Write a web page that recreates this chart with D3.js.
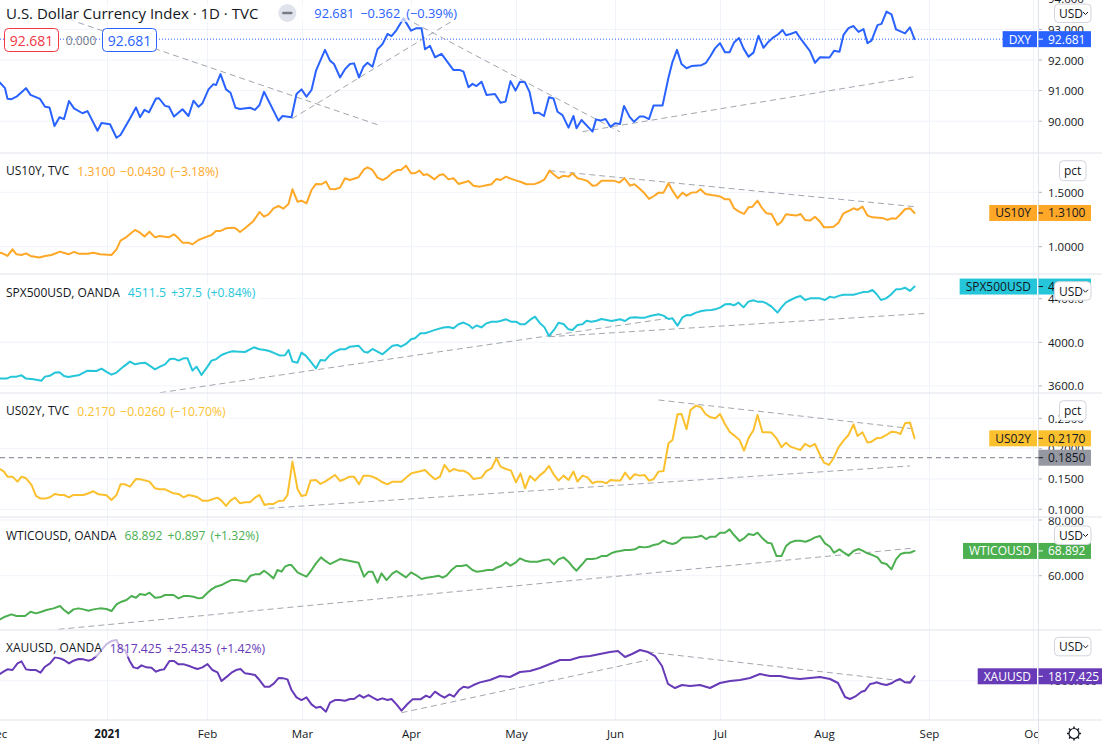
<!DOCTYPE html>
<html><head><meta charset="utf-8">
<script src="https://cdn.jsdelivr.net/npm/d3@7"></script>
<style>html,body{margin:0;padding:0;background:#fff;overflow:hidden}svg{display:block;font-family:"Open Sans",sans-serif}</style>
</head><body><svg id="c" width="1102" height="744"></svg>
<script>
// ---------- DATA (t = trading-bar index from early Dec 2020, v = close) ----------
const monthTicks = [["Dec",-0.6],["2021",21.5],["Feb",41.5],["Mar",60.5],["Apr",82.3],["May",103.3],["Jun",123.1],["Jul",144.1],["Aug",164.9],["Sep",185.9],["Oct",206.7]];

const dxy = [[0,91.26],[1,91.08],[1.5,90.73],[2.3,90.72],[3.3,90.80],[5.2,91.08],[6.1,90.86],[8,90.73],[9,90.47],[9.9,90.45],[10.9,89.84],[11.9,90.13],[12.8,90.07],[13.8,90.66],[14.8,90.42],[16.5,90.26],[17.5,90.33],[19.5,89.69],[20.3,89.94],[22,89.90],[23.3,89.46],[24.1,89.55],[26,90.09],[27.2,90.45],[28,90.13],[28.9,90.37],[29.8,90.29],[31.2,90.74],[31.8,90.75],[33,90.50],[33.8,90.47],[34.8,90.15],[36.5,90.39],[37.7,90.17],[38.7,90.67],[39.7,90.47],[40.5,90.59],[41.7,91.04],[42.7,91.21],[43.2,91.18],[44.1,91.54],[45.2,91.04],[46.1,90.93],[47.1,90.44],[48,90.40],[50,90.44],[51,90.37],[51.9,90.53],[52.8,90.96],[55.7,90.02],[56.5,90.17],[58.3,90.13],[59.3,90.89],[60.3,91.04],[61.3,90.80],[62.3,91.02],[63.2,91.65],[65,92.33],[66,91.98],[66.8,91.87],[68,91.43],[69,91.70],[70,91.87],[70.8,91.89],[71.8,91.43],[72.7,91.78],[73.5,91.91],[74.5,91.78],[75.5,92.35],[76.5,92.52],[77.5,92.85],[78.3,92.78],[79.3,92.98],[80.7,93.36],[82.2,92.96],[83.3,93.04],[84.3,93.04],[85,92.35],[86,92.46],[87,92.09],[88.3,92.20],[89.7,91.89],[90.7,91.67],[92,91.67],[92.7,91.62],[93.7,91.11],[94.5,91.22],[95.3,91.15],[96.3,91.29],[97.3,90.86],[99,90.89],[100.1,90.60],[101.1,90.64],[102.1,91.31],[103.1,91.00],[104,91.29],[105,91.27],[105.9,90.96],[106.8,90.26],[107.7,90.28],[108.8,90.17],[109.8,90.78],[110.7,90.74],[111.5,90.31],[112.5,90.20],[113.7,89.79],[114.7,90.17],[115.3,89.77],[116.3,90.04],[118.5,89.66],[119.2,90.06],[120.1,90.02],[121.1,90.07],[122.1,89.82],[123,89.93],[124,89.91],[124.8,90.50],[125.9,90.15],[126.8,89.98],[127.9,90.15],[128.8,90.15],[129.8,90.07],[130.7,90.51],[132.5,90.51],[133.7,91.43],[134.5,91.94],[135.4,92.33],[136.3,91.87],[137.3,91.73],[138.3,91.80],[140.3,91.83],[141.2,91.91],[142.1,92.13],[143,92.38],[144,92.55],[145,92.25],[145.9,92.25],[146.8,92.57],[147.8,92.72],[148.7,92.38],[149.7,92.11],[150.7,92.24],[151.7,92.79],[152.7,92.40],[153.7,92.60],[154.7,92.74],[155.7,92.85],[156.5,92.98],[157.2,92.81],[158.1,92.85],[159.2,92.92],[160.2,92.68],[162,92.29],[163,91.91],[164,92.09],[165.9,92.08],[166.8,92.30],[167.9,92.27],[168.7,92.82],[169.7,93.04],[170.7,93.11],[171.7,92.92],[172.7,93.01],[173.5,92.55],[174.3,92.63],[175.5,93.14],[176.3,93.18],[177.3,93.58],[178.3,93.49],[179.2,93.00],[181,92.87],[182,93.07],[182.9,92.681]];

const us10y = [[0,0.945],[0.5,0.939],[1.5,0.915],[2.5,0.976],[3.3,0.930],[4.3,0.924],[5.2,0.939],[6.1,0.915],[7.9,0.900],[9,0.915],[10.3,0.924],[12,0.955],[13.7,0.930],[14.8,0.952],[15.7,0.936],[17.5,0.936],[18.7,0.945],[20,0.930],[22.3,0.924],[23.3,0.976],[24.1,1.056],[25.2,1.086],[27,1.154],[28,1.129],[28.9,1.093],[29.9,1.138],[31,1.086],[31.9,1.099],[33.7,1.086],[34.8,1.114],[35.7,1.077],[36.5,1.037],[37.7,1.037],[38.5,1.022],[39.7,1.062],[41,1.086],[42.3,1.108],[43.2,1.145],[44.1,1.145],[45.2,1.169],[46.7,1.175],[47.3,1.163],[48,1.135],[49,1.169],[50.7,1.237],[51.9,1.319],[52.8,1.276],[53.7,1.298],[54.7,1.353],[55.7,1.374],[56.7,1.350],[57.7,1.393],[58.5,1.528],[59.5,1.414],[60.3,1.423],[61.3,1.399],[62.3,1.521],[63.2,1.577],[64.3,1.574],[65.2,1.598],[66,1.531],[67,1.528],[68,1.543],[69,1.629],[70,1.613],[71.7,1.638],[72.8,1.711],[73.5,1.730],[74.5,1.705],[75.5,1.635],[76.5,1.613],[77.5,1.638],[78.5,1.681],[79.5,1.705],[80.2,1.705],[81.2,1.745],[82.2,1.675],[83,1.675],[83.9,1.699],[84.7,1.659],[85.5,1.665],[86.9,1.619],[87.9,1.659],[88.7,1.665],[89.7,1.619],[90.7,1.629],[91.7,1.577],[92.9,1.592],[93.7,1.604],[94.7,1.561],[96,1.552],[97.3,1.564],[98.3,1.574],[99.3,1.623],[100.1,1.613],[101.2,1.644],[102.3,1.623],[103.3,1.607],[104.2,1.595],[105.3,1.574],[107,1.577],[107.9,1.592],[108.9,1.619],[109.9,1.699],[110.9,1.659],[111.7,1.629],[112.7,1.653],[113.7,1.644],[114.5,1.675],[115.5,1.629],[116.5,1.619],[117.5,1.604],[118.5,1.561],[119.3,1.564],[120.3,1.607],[121.3,1.607],[122.7,1.607],[123.9,1.589],[124.9,1.629],[126,1.561],[126.9,1.574],[128,1.531],[128.9,1.491],[129.8,1.439],[130.8,1.466],[131.7,1.497],[132.7,1.497],[133.7,1.583],[134.5,1.515],[135.5,1.445],[136.5,1.497],[137.3,1.469],[138.3,1.497],[139.3,1.500],[140.1,1.528],[141.1,1.485],[142.3,1.475],[143.3,1.469],[144.1,1.460],[145,1.436],[145.9,1.436],[146.8,1.353],[147.8,1.322],[148.8,1.301],[149.7,1.362],[150.5,1.368],[151.5,1.423],[152.3,1.362],[153.3,1.307],[154.3,1.301],[155.5,1.200],[156.3,1.230],[157.2,1.298],[158.3,1.292],[159.3,1.286],[160.1,1.301],[161,1.246],[162,1.240],[163,1.276],[164,1.230],[164.8,1.178],[165.8,1.178],[166.7,1.184],[167.7,1.221],[168.7,1.307],[169.7,1.328],[170.7,1.353],[171.5,1.338],[172.5,1.368],[173.5,1.286],[174.5,1.270],[175.7,1.267],[176.7,1.261],[177.5,1.246],[178.3,1.261],[179.2,1.258],[180.1,1.298],[181,1.344],[182,1.353],[182.9,1.310]];

const spx = [[0,3669],[1.3,3667],[2.3,3685],[3.3,3685],[4.3,3697],[5.2,3667],[6.7,3661],[8.3,3648],[9,3685],[10,3694],[11,3722],[11.9,3725],[12.8,3691],[13.7,3682],[14.7,3691],[15.7,3697],[17.5,3740],[19.3,3737],[20.3,3758],[21.3,3728],[22.3,3703],[23.3,3722],[24.7,3777],[26,3823],[27,3798],[28,3807],[29,3813],[30,3783],[31,3752],[32,3777],[33,3798],[34,3847],[34.8,3850],[35.7,3832],[36.7,3853],[37.5,3853],[38.5,3740],[39.3,3777],[40.3,3700],[41.5,3777],[42.3,3832],[43.2,3844],[44.3,3884],[45.5,3905],[46.5,3918],[47.9,3914],[49,3911],[50,3936],[50.8,3954],[51.9,3936],[53,3930],[54,3918],[55,3899],[56,3878],[57,3881],[57.7,3930],[58.5,3823],[59.5,3813],[60.3,3905],[61.2,3875],[62.3,3813],[63.2,3761],[64.1,3838],[65,3832],[66,3884],[67,3914],[68,3936],[69,3936],[70,3960],[71.7,3969],[72.8,3914],[73.5,3905],[74.5,3939],[75.5,3914],[76.5,3890],[77.5,3930],[78.5,3969],[79.5,3975],[80.2,3960],[81.2,3985],[82.2,4028],[83,4037],[84.1,4083],[85,4083],[86,4098],[87,4114],[88.7,4135],[89.7,4141],[90.7,4129],[91.7,4166],[92.7,4181],[93.7,4160],[94.5,4129],[95.3,4154],[96.3,4137],[97.3,4174],[98.3,4189],[99.3,4189],[100.1,4195],[101.2,4211],[102.2,4189],[103.2,4189],[104.1,4165],[105,4165],[106,4205],[107,4235],[107.9,4180],[108.9,4137],[109.8,4058],[110.8,4113],[111.7,4180],[112.7,4168],[113.7,4119],[114.5,4113],[115.5,4159],[116.5,4165],[117.3,4198],[118.3,4189],[119.3,4198],[120.3,4214],[121.3,4205],[122.3,4195],[123.3,4205],[124,4211],[125,4195],[126,4226],[127,4229],[128,4226],[129,4226],[130,4241],[131.7,4257],[132.7,4245],[133.7,4214],[134.5,4220],[135.5,4153],[136.5,4229],[137.3,4250],[138.1,4248],[139.2,4272],[140.3,4287],[141.3,4293],[142.3,4296],[143.3,4306],[144.1,4321],[145,4348],[146,4351],[146.8,4339],[147.7,4364],[148.7,4321],[149.7,4373],[150.7,4385],[151.5,4373],[152.5,4373],[153.3,4357],[154.3,4327],[155.5,4272],[156.3,4321],[157.2,4367],[158.1,4388],[159.2,4413],[160.1,4425],[161,4388],[162,4403],[163,4403],[164,4403],[165,4388],[166,4419],[166.8,4410],[167.9,4428],[168.7,4437],[169.7,4437],[170.7,4437],[171.7,4449],[172.7,4461],[173.7,4464],[174.5,4480],[175.3,4443],[176.2,4388],[177.2,4403],[178.1,4434],[179.2,4486],[180,4486],[181,4501],[182,4471],[182.9,4511.5]];

const us02y = [[0,0.1665],[0.8,0.1621],[1.5,0.1538],[2.5,0.1538],[3.5,0.1456],[4.3,0.1538],[5.2,0.1511],[6.3,0.1401],[7.2,0.1220],[8.1,0.1176],[9,0.1176],[10,0.1198],[11,0.1253],[12,0.1236],[12.8,0.1236],[13.8,0.1198],[14.7,0.1236],[16.7,0.1236],[17.7,0.1264],[18.7,0.1297],[19.7,0.1247],[21.3,0.1231],[22.3,0.1154],[23.3,0.1236],[24.1,0.1412],[25,0.1412],[26,0.1374],[27.2,0.1500],[28.1,0.1495],[29.9,0.1456],[31,0.1346],[31.9,0.1330],[33,0.1330],[34.7,0.1264],[35.7,0.1253],[36.7,0.1198],[37.7,0.1236],[38.7,0.1220],[39.5,0.1198],[40.5,0.1143],[41.7,0.1143],[42.5,0.1165],[43.5,0.1192],[44.3,0.1143],[45.2,0.1055],[46.1,0.1143],[47,0.1192],[48,0.1099],[49,0.1115],[50,0.1115],[51,0.1192],[51.9,0.1236],[52.9,0.1071],[53.7,0.1088],[54.7,0.1088],[55.7,0.1137],[56.7,0.1143],[57.5,0.1236],[58.5,0.1786],[59.5,0.1335],[60.3,0.1220],[61.2,0.1236],[62.1,0.1473],[63.2,0.1484],[64.1,0.1418],[65,0.1456],[66,0.1511],[67,0.1566],[68,0.1467],[69,0.1500],[69.9,0.1538],[70.8,0.1538],[71.8,0.1412],[72.7,0.1555],[73.7,0.1555],[74.5,0.1538],[75.5,0.1500],[76.5,0.1445],[77.5,0.1412],[78.5,0.1456],[80.3,0.1456],[81.3,0.1527],[82.3,0.1593],[84,0.1626],[85,0.1648],[86,0.1566],[87,0.1495],[88,0.1538],[88.9,0.1731],[89.9,0.1621],[90.8,0.1665],[91.7,0.1637],[92.7,0.1637],[93.7,0.1593],[94.7,0.1500],[96.3,0.1522],[97.3,0.1632],[98.3,0.1676],[99.3,0.1841],[100.1,0.1703],[101.2,0.1665],[102.2,0.1637],[103.2,0.1445],[104.1,0.1593],[105,0.1346],[106,0.1549],[107,0.1473],[107.9,0.1555],[108.9,0.1621],[109.8,0.1714],[110.8,0.1566],[111.7,0.1473],[112.7,0.1555],[113.7,0.1484],[114.7,0.1621],[115.5,0.1456],[116.5,0.1555],[117.5,0.1527],[118.5,0.1429],[119.3,0.1456],[120.3,0.1456],[121.3,0.1429],[122.1,0.1484],[123.1,0.1473],[124.1,0.1473],[125,0.1604],[126,0.1495],[126.9,0.1577],[127.9,0.1555],[128.9,0.1566],[129.8,0.1473],[130.7,0.1495],[131.7,0.1621],[132.7,0.1632],[133.7,0.2088],[134.5,0.2143],[135.5,0.2566],[136.3,0.2571],[137.3,0.2319],[138.1,0.2637],[139.2,0.2709],[140.2,0.2681],[141.1,0.2571],[142.1,0.2516],[143.1,0.2500],[144,0.2571],[145,0.2401],[146,0.2269],[146.9,0.2214],[147.9,0.2143],[148.8,0.1967],[149.7,0.2170],[150.7,0.2308],[151.5,0.2555],[152.5,0.2269],[153.5,0.2269],[154.3,0.2264],[155.3,0.2170],[156.3,0.2022],[157.2,0.2099],[158.1,0.2033],[159.1,0.2005],[160.1,0.1978],[161,0.2077],[162,0.2033],[163,0.2077],[164,0.1896],[164.8,0.1769],[165.8,0.1731],[166.7,0.1841],[167.7,0.2022],[168.7,0.2132],[169.7,0.2225],[170.7,0.2401],[171.5,0.2209],[172.5,0.2269],[173.5,0.2099],[174.3,0.2115],[175.3,0.2170],[176.3,0.2181],[177.3,0.2225],[178.3,0.2280],[179.3,0.2269],[180.1,0.2242],[181,0.2418],[182,0.2429],[182.9,0.2170]];

const wti = [[0,44.32],[1,45.28],[2.3,46.12],[3.3,45.52],[5,45.52],[6.1,47.07],[7.2,46.48],[8.3,47.07],[9.3,47.67],[10.7,48.27],[12,49.11],[12.8,47.67],[13.7,46.48],[14.7,47.91],[15.7,48.27],[16.7,47.91],[17.7,47.43],[18.7,47.91],[20,48.27],[21.3,48.03],[22.3,47.31],[23.3,49.71],[24.3,50.66],[25.3,51.26],[26.3,52.70],[27.2,52.10],[28,53.42],[29,53.06],[29.9,53.90],[31,52.10],[32,52.22],[33,53.06],[34.7,53.06],[35.7,51.86],[36.7,52.70],[37.7,52.70],[38.7,52.46],[39.7,51.86],[40.5,52.10],[41.5,53.90],[42.3,55.09],[43.2,56.05],[44.3,56.65],[45.3,57.61],[46.3,58.44],[47.3,58.44],[48.3,58.20],[49.2,57.85],[50.1,60.00],[51,60.48],[51.9,60.48],[52.8,61.80],[53.7,60.60],[54.7,59.04],[55.5,62.03],[56.3,61.44],[57,63.23],[57.7,63.83],[58.3,63.83],[59.5,61.20],[60.3,60.48],[61.3,59.64],[62.3,62.03],[63.2,64.43],[64.2,66.58],[65,65.39],[66,64.19],[67,65.03],[68,65.98],[69,65.63],[70,65.27],[71.7,64.67],[72.8,59.64],[73.7,61.44],[74.5,61.44],[75.5,57.49],[76.3,60.84],[77.3,58.44],[78.5,60.84],[79.3,61.68],[80.3,60.48],[81.2,59.40],[82.2,61.20],[83.2,60.24],[84.3,58.80],[85.3,59.28],[86.7,59.64],[87.7,60.00],[88.5,59.28],[89.3,60.00],[90.3,62.03],[91.3,63.47],[92.3,63.47],[93.3,63.83],[94.5,62.03],[95.3,61.44],[96.5,61.68],[97.5,62.03],[98.5,62.03],[99.3,62.87],[100.3,63.59],[101.2,64.79],[102.1,63.59],[103.1,64.67],[104,66.22],[105,65.39],[106,65.03],[107.5,65.03],[108.8,65.63],[109.8,65.86],[110.8,64.07],[111.7,65.86],[112.7,66.58],[113.7,65.03],[114.5,63.23],[115.3,61.80],[116.3,63.83],[117.3,65.98],[118.5,65.98],[119.3,66.22],[120.3,67.06],[121.3,67.06],[122.2,68.02],[123.1,68.62],[124,68.86],[125,69.22],[126,69.22],[127,69.46],[127.9,70.41],[128.9,70.17],[129.8,70.41],[130.7,71.01],[131.7,71.37],[132.7,72.57],[133.5,71.85],[134.5,71.37],[135.3,71.85],[136.5,73.64],[137.5,73.76],[138.5,73.76],[139.5,74.00],[140.3,74.36],[141.2,73.17],[142.1,74.00],[143.1,74.00],[144,75.44],[145,75.44],[145.9,76.64],[146.8,74.60],[147.9,72.45],[148.8,73.41],[149.7,74.96],[150.7,74.60],[151.5,75.44],[152.5,73.41],[153.5,71.85],[154.3,71.61],[155.3,67.06],[156.3,67.06],[157.2,70.65],[158.1,71.97],[159.1,72.57],[160.1,72.57],[161.1,72.21],[162,72.81],[163,73.76],[164,74.24],[165,71.61],[166,70.41],[166.8,68.26],[167.9,69.46],[168.8,68.26],[169.7,67.18],[170.7,68.86],[171.7,69.58],[172.5,68.98],[173.5,68.02],[174.5,67.42],[175.5,66.58],[176.3,64.67],[177.3,64.19],[178.3,62.27],[179.2,65.86],[180.1,67.78],[181,68.26],[182,68.26],[182.9,68.892]];

const xau = [[0,1826.4],[0.7,1835.6],[1.5,1844.8],[2.5,1842.2],[3.5,1868.5],[4.3,1876.4],[5.2,1844.8],[6.1,1842.2],[7.2,1842.2],[8.1,1831.6],[9,1855.3],[10,1868.5],[11,1892.2],[12,1888.3],[12.8,1881.7],[13.8,1868.5],[14.7,1879.1],[15.7,1885.6],[16.7,1884.3],[17.7,1879.1],[18.5,1884.3],[19.5,1901.4],[20.3,1921.2],[21.3,1944.9],[22.3,1956.8],[23.3,1960.7],[24.1,1927.8],[25,1921.2],[25.9,1879.1],[26.7,1852.7],[27.5,1848.7],[28.3,1860.6],[29.3,1852.7],[30.3,1851.4],[31.2,1835.6],[32,1842.2],[32.8,1844.8],[33.9,1877.7],[34.8,1877.7],[35.7,1864.6],[36.8,1864.6],[37.7,1859.3],[38.7,1851.4],[39.5,1846.1],[40.5,1852.7],[41.5,1865.9],[42.5,1842.2],[43.5,1832.9],[44.3,1798.7],[45.2,1813.2],[46.3,1831.6],[47.2,1842.2],[48.1,1846.1],[49,1829.0],[50,1826.4],[51,1822.4],[51.9,1802.6],[52.9,1776.3],[53.9,1776.3],[54.8,1789.5],[55.7,1810.5],[56.7,1809.2],[57.5,1805.3],[58.3,1763.1],[59.3,1734.1],[60.3,1723.6],[61.3,1734.1],[62.3,1706.5],[63.2,1693.3],[64.1,1697.2],[65.2,1677.5],[66,1713.0],[67,1723.6],[67.9,1723.6],[69,1720.9],[70,1727.5],[70.8,1727.5],[71.9,1743.3],[72.7,1732.8],[73.7,1743.3],[74.5,1734.1],[75.5,1723.6],[76.5,1730.2],[77.5,1723.6],[78.3,1727.5],[79.3,1706.5],[80.3,1681.4],[81.5,1707.8],[82.5,1726.2],[83.3,1726.2],[84.1,1726.2],[85.2,1740.7],[86,1734.1],[87,1756.5],[88,1743.3],[88.9,1732.8],[89.9,1745.9],[90.8,1736.8],[91.8,1763.1],[92.7,1776.3],[93.7,1772.3],[94.7,1782.9],[96,1793.4],[98,1802.8],[100,1818.6],[102,1814.6],[104,1834.4],[106,1838.3],[108,1850.2],[110,1866],[112,1881.8],[114,1881.8],[116,1893.7],[118,1897.6],[120,1905.5],[122,1913.4],[123.6,1917.4],[125,1893.7],[126.4,1905.5],[128,1921.3],[129.6,1913.4],[131,1897.6],[132.4,1858.1],[133.6,1787],[135,1771.1],[136.4,1783],[138,1779],[140,1783],[142,1771.1],[144,1790.9],[146,1798.8],[148,1802.8],[150,1810.7],[152,1826.5],[154,1818.6],[156,1818.6],[158,1810.7],[160,1806.7],[162,1810.7],[164,1814.6],[166,1806.7],[167.6,1790.9],[169,1735.6],[170,1727.7],[171,1736.8],[172.3,1756.5],[173,1760.5],[174,1787],[174.8,1789.7],[175.3,1793.7],[176.3,1787],[177.3,1783],[178.3,1789.7],[179,1798.8],[180,1806.7],[181,1793.7],[182,1792.1],[182.9,1817.425]];

// trend-line drawings: [[t1,v1],[t2,v2]]
const dxyTrends = [[[10,93.54],[75.6,89.88]],[[58.4,90.08],[90.4,93.27]],[[81,93.37],[124,89.65]],[[116.5,89.66],[182.7,91.45]]];
const us10yTrends = [[[109.9,1.699],[182.9,1.368]]];
const spxTrends = [[[32,3538],[133.6,4220]],[[109.8,4051],[185.4,4266]]];
const us02yTrends = [[[131.7,0.2802],[183,0.2324]],[[53.7,0.1017],[182,0.1714]]];
const wtiTrends = [[[11.7,40.75],[182.9,69.95]]];
const xauTrends = [[[80.3,1673.5],[129.6,1881.8]],[[129.6,1913.4],[183,1793.7]]];
const us02yHLine = 0.1850;

const dxyTicks = [90,91,92,93,94];
const us10yTicks = [1.0,1.5];
const spxTicks = [3600,4000,4400];
const us02yTicks = [0.10,0.15,0.20,0.25];
const wtiTicks = [60,80];
const xauTicks = [1800];

// ---------- LAYOUT ----------
const W=1102,H=744,AX=1038;
const svg=d3.select("#c");
const x=d3.scaleLinear().domain([0,207.6]).range([0,AX]);
const TXT="#131722", GRID="#f0f3fa", SEP="#e0e3eb";

const panes=[
 {id:"dxy",top:0,bottom:153,dom:[90,93],rng:[121.2,29.4],ticks:dxyTicks,fmt:".3f",data:dxy,color:"#2962FF",trends:dxyTrends,
  badge:{name:"DXY",val:"92.681",bg:"#2962FF",fg:"#fff"},btn:"USD",btnY:4},
 {id:"us10y",top:153,bottom:274,dom:[1.0,1.5],rng:[246.7,192.3],ticks:us10yTicks,fmt:".4f",data:us10y,color:"#FFA726",trends:us10yTrends,
  name:"US10Y, TVC",vals:["1.3100","\u22120.0430","(\u22123.18%)"],badge:{name:"US10Y",val:"1.3100",bg:"#FFA726",fg:TXT},btn:"pct",btnY:7.7},
 {id:"spx",top:274,bottom:393,dom:[3600,4400],rng:[385.9,298.7],ticks:spxTicks,fmt:".1f",data:spx,color:"#26C6DA",trends:spxTrends,
  name:"SPX500USD, OANDA",vals:["4511.5","+37.5","(+0.84%)"],badge:{name:"SPX500USD",val:"4511.5",bg:"#26C6DA",fg:TXT},btn:"USD",btnY:7.7},
 {id:"us02y",top:393,bottom:517,dom:[0.10,0.25],rng:[509.3,418.3],ticks:us02yTicks,fmt:".4f",data:us02y,color:"#FBC02D",trends:us02yTrends,
  name:"US02Y, TVC",vals:["0.2170","\u22120.0260","(\u221210.70%)"],badge:{name:"US02Y",val:"0.2170",bg:"#FBC02D",fg:TXT},btn:"pct",btnY:7.7},
 {id:"wti",top:517,bottom:630,dom:[60,80],rng:[575.7,520],ticks:wtiTicks,fmt:".3f",data:wti,color:"#4CAF50",trends:wtiTrends,
  name:"WTICOUSD, OANDA",vals:["68.892","+0.897","(+1.32%)"],badge:{name:"WTICOUSD",val:"68.892",bg:"#4CAF50",fg:"#fff"},btn:"USD",btnY:9},
 {id:"xau",top:630,bottom:720,dom:[1800,2000],rng:[680.7,630.1],ticks:xauTicks,fmt:".3f",data:xau,color:"#673AB7",trends:xauTrends,
  name:"XAUUSD, OANDA",vals:["1817.425","+25.435","(+1.42%)"],badge:{name:"XAUUSD",val:"1817.425",bg:"#673AB7",fg:"#fff"},btn:"USD",btnY:7.3}
];

const defs=svg.append("defs");
defs.append("clipPath").attr("id","cl-time").append("rect").attr("x",0).attr("y",720).attr("width",AX).attr("height",24);

// vertical month grid
const gGrid=svg.append("g");
gGrid.selectAll("line").data(monthTicks).join("line")
 .attr("x1",d=>x(d[1])).attr("x2",d=>x(d[1])).attr("y1",0).attr("y2",720)
 .attr("stroke",GRID).attr("stroke-width",1);

panes.forEach(p=>{
 p.y=d3.scaleLinear().domain(p.dom).range(p.rng);
 const cid="cl-"+p.id, aid="ca-"+p.id;
 defs.append("clipPath").attr("id",cid).append("rect").attr("x",0).attr("y",p.top).attr("width",AX).attr("height",p.bottom-p.top);
 defs.append("clipPath").attr("id",aid).append("rect").attr("x",AX).attr("y",p.top).attr("width",W-AX).attr("height",p.bottom-p.top);
 const g=svg.append("g").attr("clip-path",`url(#${cid})`);
 g.selectAll("line.h").data(p.ticks).join("line").attr("class","h")
  .attr("x1",0).attr("x2",AX).attr("y1",d=>p.y(d)).attr("y2",d=>p.y(d)).attr("stroke",GRID);
 p.g=g;
 const ga=svg.append("g").attr("clip-path",`url(#${aid})`);
 const fmt=d3.format(p.fmt);
 ga.selectAll("line").data(p.ticks).join("line").attr("x1",AX).attr("x2",AX+4).attr("y1",d=>p.y(d)).attr("y2",d=>p.y(d)).attr("stroke","#b2b5be");
 ga.selectAll("text").data(p.ticks).join("text").attr("x",1048).attr("y",d=>p.y(d)).attr("dominant-baseline","central")
  .attr("font-size",11.5).attr("fill",TXT).text(d=>fmt(d));
 p.ga=ga;
});

// horizontal line drawing on US02Y
const p4=panes[3];
p4.g.append("line").attr("x1",0).attr("x2",AX).attr("y1",p4.y(us02yHLine)).attr("y2",p4.y(us02yHLine))
 .attr("stroke","#787b86").attr("stroke-width",1).attr("stroke-dasharray","5,4");

// DXY current price dotted line
const p1=panes[0];
p1.g.append("line").attr("x1",0).attr("x2",AX).attr("y1",p1.y(92.681)).attr("y2",p1.y(92.681))
 .attr("stroke","#2962FF").attr("stroke-width",1).attr("stroke-dasharray","1,2");

// trend lines + series
panes.forEach(p=>{
 const ln=d3.line().x(d=>x(d[0])).y(d=>p.y(d[1]));
 p.g.selectAll("path.tr").data(p.trends).join("path").attr("class","tr").attr("d",ln)
  .attr("fill","none").attr("stroke","#a3a6af").attr("stroke-width",1).attr("stroke-dasharray","6,4");
 p.g.append("path").datum(p.data).attr("d",ln).attr("fill","none").attr("stroke",p.color)
  .attr("stroke-width",2).attr("stroke-linejoin","round").attr("stroke-linecap","round");
});

// separators
[153,274,393,517,630,720].forEach(yy=>{
 svg.append("line").attr("x1",0).attr("x2",W).attr("y1",yy).attr("y2",yy).attr("stroke",SEP).attr("stroke-width",1);
});
svg.append("line").attr("x1",AX+0.5).attr("x2",AX+0.5).attr("y1",0).attr("y2",H).attr("stroke",SEP);

// legends
function legendBg(g, x0, x1, cy){
 g.insert("rect",":first-child").attr("x",x0).attr("y",cy-9).attr("width",x1-x0).attr("height",18).attr("fill","rgba(255,255,255,0.65)");
}
{
 const g=svg.append("g");
 const t=g.append("text").attr("x",6).attr("y",13).attr("dominant-baseline","central").attr("font-size",15).attr("fill",TXT)
  .text("U.S. Dollar Currency Index \u00b7 1D \u00b7 TVC");
 const tw=t.node().getComputedTextLength();
 const cx=6+tw+29;
 g.append("circle").attr("cx",cx).attr("cy",13).attr("r",9).attr("fill","#e0e3eb");
 g.append("line").attr("x1",cx-4).attr("x2",cx+4).attr("y1",13).attr("y2",13).attr("stroke","#787b86").attr("stroke-width",2.5).attr("stroke-linecap","round");
 const v=g.append("text").attr("x",cx+27).attr("y",13).attr("dominant-baseline","central").attr("font-size",12.8).attr("fill","#2962FF");
 ["92.681","\u22120.362","(\u22120.39%)"].forEach((s,i)=>v.append("tspan").attr("dx",i?6:0).text(s));
 const vw=v.node().getBBox();
 legendBg(g,0,vw.x+vw.width+4,13);
 const row=svg.append("g");
 row.append("rect").attr("x",4.5).attr("y",28.5).attr("width",54).attr("height",23).attr("rx",4).attr("fill","#fff").attr("stroke","#F23645");
 row.append("text").attr("x",31.5).attr("y",40).attr("text-anchor","middle").attr("dominant-baseline","central").attr("font-size",14).attr("fill","#F23645").text("92.681");
 row.append("text").attr("x",81).attr("y",40).attr("text-anchor","middle").attr("dominant-baseline","central").attr("font-size",12).attr("fill","#787b86").text("0.000");
 row.append("rect").attr("x",102.5).attr("y",28.5).attr("width",54).attr("height",23).attr("rx",4).attr("fill","#fff").attr("stroke","#2962FF");
 row.append("text").attr("x",129.5).attr("y",40).attr("text-anchor","middle").attr("dominant-baseline","central").attr("font-size",14).attr("fill","#2962FF").text("92.681");
}
const legendY={us10y:170.7,spx:292.3,us02y:410.7,wti:535,xau:647.7};
panes.slice(1).forEach(p=>{
 const g=svg.append("g"); const cy=legendY[p.id];
 const t=g.append("text").attr("x",6).attr("y",cy).attr("dominant-baseline","central").attr("font-size",12).attr("fill",TXT).text(p.name);
 const tw=t.node().getComputedTextLength();
 const v=g.append("text").attr("x",6+tw+8).attr("y",cy).attr("dominant-baseline","central").attr("font-size",12.2).attr("fill",p.color);
 p.vals.forEach((s,i)=>v.append("tspan").attr("dx",i?5:0).text(s));
 const bb=v.node().getBBox();
 legendBg(g,0,bb.x+bb.width+4,cy);
});

// price badges
function badge(name,val,cy,bg,fg){
 const g=svg.append("g");
 if(name){
  const t=g.append("text").attr("y",cy).attr("dominant-baseline","central").attr("font-size",12).attr("fill",fg).text(name);
  const w=t.node().getComputedTextLength();
  g.insert("rect","text").attr("x",AX-1-w-12).attr("y",cy-8).attr("width",w+12).attr("height",16).attr("fill",bg);
  t.attr("x",AX-1-w-6);
 }
 const t2=g.append("text").attr("x",1048).attr("y",cy).attr("dominant-baseline","central").attr("font-size",12).attr("fill",fg).text(val);
 const w2=t2.node().getComputedTextLength();
 g.insert("rect","text").attr("x",AX+0.5).attr("y",cy-8).attr("width",1048-AX+w2+5).attr("height",16).attr("fill",bg);
 g.append("line").attr("x1",AX+0.5).attr("x2",AX+5).attr("y1",cy).attr("y2",cy).attr("stroke",fg).attr("stroke-width",1);
}
panes.forEach(p=>{ const b=p.badge; badge(b.name,b.val,p.y(+b.val),b.bg,b.fg); });
badge(null,"0.1850",p4.y(us02yHLine),"#9598a1",TXT);

// scale buttons
panes.forEach(p=>{
 const g=svg.append("g"); const y0=p.top+p.btnY;
 if(p.btn==="USD"){
  g.append("rect").attr("x",1054.5).attr("y",y0).attr("width",36.5).attr("height",18.5).attr("rx",4).attr("fill","#fff").attr("stroke","#d1d4dc");
  g.append("text").attr("x",1059).attr("y",y0+9.5).attr("dominant-baseline","central").attr("font-size",12).attr("fill",TXT).text("USD");
  g.append("path").attr("d",`M${1083},${y0+8} l2.5,2.5 l2.5,-2.5`).attr("fill","none").attr("stroke",TXT).attr("stroke-width",1);
 } else {
  g.append("rect").attr("x",1059.5).attr("y",y0).attr("width",26.5).attr("height",20).attr("rx",4).attr("fill","#fff").attr("stroke","#d1d4dc");
  g.append("text").attr("x",1072.7).attr("y",y0+10).attr("text-anchor","middle").attr("dominant-baseline","central").attr("font-size",12).attr("fill",TXT).text("pct");
 }
});

// time axis labels
const gt=svg.append("g").attr("clip-path","url(#cl-time)");
gt.selectAll("text").data(monthTicks).join("text").attr("x",d=>x(d[1])).attr("y",733.5).attr("text-anchor","middle")
 .attr("dominant-baseline","central").attr("font-size",11.5).attr("fill",TXT).attr("font-weight",d=>d[0]==="2021"?700:400).text(d=>d[0]);

// settings gear
{
 const g=svg.append("g").attr("transform","translate(1074,733.5)");
 g.append("circle").attr("r",5).attr("fill","none").attr("stroke",TXT).attr("stroke-width",1.2);
 d3.range(8).forEach(i=>{const a=i*Math.PI/4; g.append("line").attr("x1",5*Math.cos(a)).attr("y1",5*Math.sin(a)).attr("x2",7*Math.cos(a)).attr("y2",7*Math.sin(a)).attr("stroke",TXT).attr("stroke-width",1.5);});
}
</script></body></html>
